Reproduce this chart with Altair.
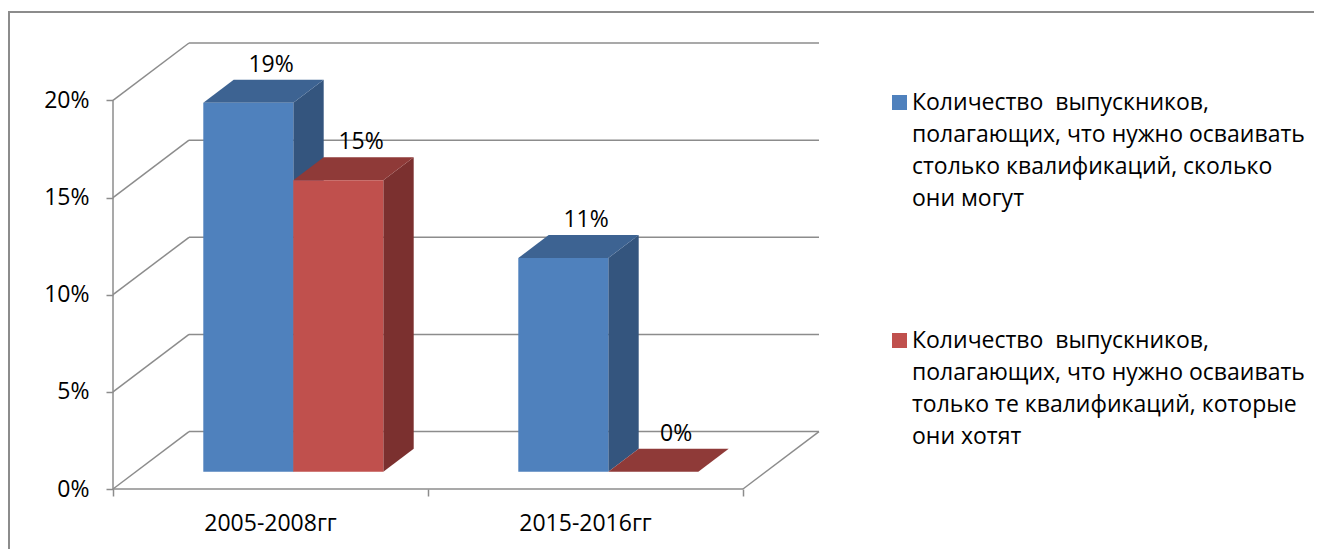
import altair as alt
import pandas as pd

# ---------------- data ----------------
categories = ["2005-2008гг", "2015-2016гг"]
series_names = [
    "Количество\u00a0 выпускников,\nполагающих, что нужно осваивать\nстолько квалификаций, сколько\nони могут",
    "Количество\u00a0 выпускников,\nполагающих, что нужно осваивать\nтолько те квалификаций, которые\nони хотят",
]
values_can = [19, 11]
values_want = [15, 0]
y_ticks = [0, 5, 10, 15, 20]

# ---------------- style ----------------
FONT = "Open Sans"
FRONT = ["#4F81BD", "#C0504D"]
TOP = ["#3D6392", "#8F3A38"]
SIDE = ["#34557E", "#7B302F"]
GRID = "#8C8C8C"
CAT_W = 315.0      # width of one category on the floor (x units)
GAP = 1.5          # gap width relative to bar width
DX = 76.0          # horizontal depth shift of the back wall (x units)
D = 2.956          # vertical depth shift of the back wall (% units)
F0, F1 = 0.3, 0.7  # depth range occupied by the bars
F_LABEL = 0.6      # depth at which value labels are centred
Y_MAX = 20

series_vals = [values_can, values_want]
n_cat = len(categories)
n_ser = len(series_names)
floor_w = n_cat * CAT_W
bw = CAT_W / (n_ser + GAP)
off = (CAT_W - bw * n_ser) / 2

front_rows, side_rows, top_rows, label_rows = [], [], [], []
for i, cat in enumerate(categories):
    for j, s in enumerate(series_names):
        v = series_vals[j][i]
        xl = i * CAT_W + off + j * bw
        xr = xl + bw
        fid = f"{i}-{j}"
        front_rows.append(dict(series=s, x1=xl + F0 * DX, x2=xr + F0 * DX,
                               y1=F0 * D, y2=v + F0 * D))
        for f in (F0, F1):
            side_rows.append(dict(face=fid, shade=SIDE[j], x=xr + f * DX,
                                  ylo=f * D, yhi=v + f * D))
            top_rows.append(dict(face=fid, shade=TOP[j], y=v + f * D,
                                 xl=xl + f * DX, xr=xr + f * DX))
        label_rows.append(dict(x=(xl + xr) / 2 + F_LABEL * DX, y=v + F1 * D, text=f"{v}%"))

line_rows = [dict(x=0, y=0, x2=0, y2=Y_MAX)]
for t in y_ticks:
    line_rows.append(dict(x=0, y=t, x2=DX, y2=t + D))
    line_rows.append(dict(x=DX, y=t + D, x2=floor_w + DX, y2=t + D))
line_rows.append(dict(x=0, y=0, x2=floor_w, y2=0))
line_rows.append(dict(x=floor_w, y=0, x2=floor_w + DX, y2=D))

cat_rows = [dict(x=(i + 0.5) * CAT_W, y=0, text=c) for i, c in enumerate(categories)]

xs = alt.Scale(domain=[0, floor_w + DX], nice=False, zero=False)
ys = alt.Scale(domain=[0, Y_MAX + D], nice=False, zero=False)

x_axis = alt.Axis(values=[i * CAT_W for i in range(n_cat + 1)], labels=False,
                  tickSize=7, tickColor=GRID, tickWidth=1.5, domain=False,
                  grid=False, title=None)
y_axis = alt.Axis(values=y_ticks, labelExpr="datum.value + '%'", tickSize=7,
                  tickColor=GRID, tickWidth=1.5, domain=False, grid=False,
                  title=None, labelPadding=17, labelFont=FONT, labelFontSize=23,
                  labelColor="black")

one = pd.DataFrame({"a": [0]})
border_top = alt.Chart(one).mark_rule(color=GRID, strokeWidth=2).encode(
    x=alt.value(-104), x2=alt.value(1260), y=alt.value(-31)
)
border_left = alt.Chart(one).mark_rule(color=GRID, strokeWidth=2).encode(
    x=alt.value(-104), y=alt.value(-32), y2=alt.value(560)
)

frame = alt.Chart(pd.DataFrame(line_rows)).mark_rule(
    color=GRID, strokeWidth=1.5
).encode(
    x=alt.X("x:Q", scale=xs, axis=x_axis),
    y=alt.Y("y:Q", scale=ys, axis=y_axis),
    x2="x2:Q", y2="y2:Q",
)

sides = alt.Chart(pd.DataFrame(side_rows)).mark_area().encode(
    x=alt.X("x:Q", scale=xs, axis=x_axis),
    y=alt.Y("yhi:Q", scale=ys, axis=y_axis, stack=None),
    y2="ylo:Q",
    color=alt.Color("shade:N", scale=None),
    detail="face:N",
)

tops = alt.Chart(pd.DataFrame(top_rows)).mark_area(orient="horizontal").encode(
    y=alt.Y("y:Q", scale=ys, axis=y_axis),
    x=alt.X("xl:Q", scale=xs, axis=x_axis, stack=None),
    x2="xr:Q",
    color=alt.Color("shade:N", scale=None),
    detail="face:N",
)

fronts = alt.Chart(pd.DataFrame(front_rows)).mark_rect().encode(
    x=alt.X("x1:Q", scale=xs, axis=x_axis),
    x2="x2:Q",
    y=alt.Y("y1:Q", scale=ys, axis=y_axis),
    y2="y2:Q",
    color=alt.Color(
        "series:N",
        scale=alt.Scale(domain=series_names, range=FRONT),
        legend=alt.Legend(
            orient="none", legendX=775, legendY=48, title=None, padding=0,
            symbolType="square", symbolSize=225, symbolStrokeWidth=0,
            symbolOpacity=1, labelFont=FONT, labelFontSize=23,
            labelColor="black", labelOffset=1, labelLimit=800,
            rowPadding=118, labelExpr="split(datum.label, '\\n')",
        ),
    ),
)

labels = alt.Chart(pd.DataFrame(label_rows)).mark_text(
    font=FONT, fontSize=23, baseline="alphabetic", dy=-8, color="black"
).encode(
    x=alt.X("x:Q", scale=xs, axis=x_axis),
    y=alt.Y("y:Q", scale=ys, axis=y_axis),
    text="text:N",
)

cat_labels = alt.Chart(pd.DataFrame(cat_rows)).mark_text(
    font=FONT, fontSize=23, baseline="middle", dy=35, color="black"
).encode(
    x=alt.X("x:Q", scale=xs, axis=x_axis),
    y=alt.Y("y:Q", scale=ys, axis=y_axis),
    text="text:N",
)

chart = alt.layer(border_top, border_left, frame, sides, tops, fronts, labels,
                  cat_labels).properties(
    width=706, height=446,
    autosize=alt.AutoSizeParams(type="none"),
    padding={"left": 105, "top": 35, "right": 495, "bottom": 60},
    background="white",
).configure(
    style={"guide-label": {"lineHeight": 32}},
    view=alt.ViewConfig(stroke=None),
)

chart.save("out.html", embed_options={"renderer": "svg", "actions": False})
